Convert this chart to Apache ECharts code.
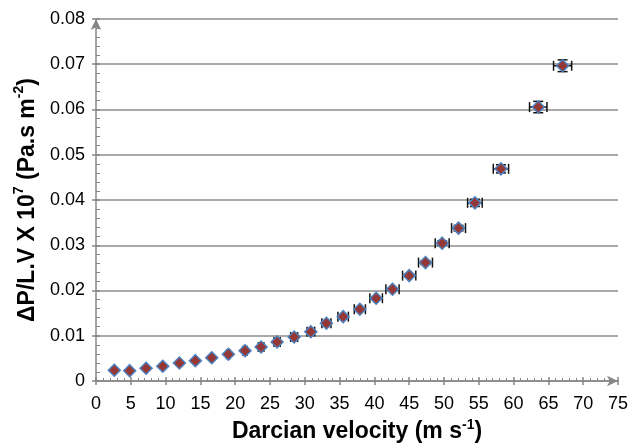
<!DOCTYPE html>
<html>
<head>
<meta charset="utf-8">
<script src="https://cdn.jsdelivr.net/npm/echarts@6/dist/echarts.min.js"></script>
<style>
  html, body { margin: 0; padding: 0; background: #fff; }
  #chart { width: 630px; height: 446px; }
</style>
</head>
<body>
<div id="chart"></div>
<script>
// Darcian velocity (m s-1)
const velocity = [2.63, 4.84, 7.19, 9.59, 11.98, 14.28, 16.63, 19.02, 21.42, 23.72,
  26.02, 28.47, 30.87, 33.11, 35.51, 37.91, 40.25, 42.6, 45.0, 47.34,
  49.74, 52.09, 54.44, 58.18, 63.54, 67.04];
// ΔP/L.V x 10^7 (Pa.s m-2)
const pressure = [0.00237, 0.00228, 0.00281, 0.00325, 0.00398, 0.00449, 0.00515, 0.0059, 0.0067, 0.00752,
  0.00863, 0.00973, 0.0109, 0.01276, 0.01422, 0.01586, 0.01829, 0.02028, 0.02329, 0.02617,
  0.03046, 0.03378, 0.03937, 0.04689, 0.06054, 0.06967];
// half-widths of the error bars
const velocityErr = [0, 0, 0, 0, 0.05, 0.1, 0.15, 0.25, 0.3, 0.4,
  0.45, 0.5, 0.55, 0.65, 0.75, 0.8, 0.9, 0.95, 0.95, 1.0,
  1.0, 1.0, 1.05, 1.1, 1.25, 1.3];
const pressureErr = [0, 0, 0, 0, 0, 0, 0, 0, 0, 0,
  0, 0, 0, 0, 0, 0, 0, 0, 0.0003, 0.0004,
  0.0005, 0.0006, 0.0008, 0.0009, 0.00125, 0.0013];

const xTicks = { min: 0, max: 75, interval: 5 };
const yTicks = { min: 0, max: 0.08, interval: 0.01 };

const FONT = '"Liberation Sans", Arial, sans-serif';
const AXIS_GRAY = '#868686';
const GRID_GRAY = '#8c8c8c';

const points = velocity.map((v, i) => [v, pressure[i]]);
const errData = velocity.map((v, i) => [v, pressure[i], velocityErr[i], pressureErr[i]]);

const chart = echarts.init(document.getElementById('chart'), null, { renderer: 'canvas' });

function errorBars(params, api) {
  const x = api.value(0), y = api.value(1), ex = api.value(2), ey = api.value(3);
  const cap = 5;
  const style = { stroke: '#111', lineWidth: 1.5, fill: null };
  const children = [];
  if (ex > 0) {
    const l = api.coord([x - ex, y]);
    const r = api.coord([x + ex, y]);
    children.push(
      { type: 'line', shape: { x1: l[0], y1: l[1], x2: r[0], y2: r[1] }, style },
      { type: 'line', shape: { x1: l[0], y1: l[1] - cap, x2: l[0], y2: l[1] + cap }, style },
      { type: 'line', shape: { x1: r[0], y1: r[1] - cap, x2: r[0], y2: r[1] + cap }, style }
    );
  }
  if (ey > 0) {
    const t = api.coord([x, y + ey]);
    const b = api.coord([x, y - ey]);
    children.push(
      { type: 'line', shape: { x1: t[0], y1: t[1], x2: b[0], y2: b[1] }, style },
      { type: 'line', shape: { x1: t[0] - cap, y1: t[1], x2: t[0] + cap, y2: t[1] }, style },
      { type: 'line', shape: { x1: b[0] - cap, y1: b[1], x2: b[0] + cap, y2: b[1] }, style }
    );
  }
  return { type: 'group', children };
}

function titleRich(size, supSize, lh) {
  return {
    b: { fontFamily: FONT, fontSize: size, fontWeight: 'bold', color: '#000', lineHeight: lh },
    s: { fontFamily: FONT, fontSize: supSize, fontWeight: 'bold', color: '#000', verticalAlign: 'top', lineHeight: lh }
  };
}

const option = {
  animation: false,
  backgroundColor: '#fff',
  grid: { left: 96, right: 12, top: 19, bottom: 65, containLabel: false, outerBoundsMode: 'none' },
  xAxis: [
    {
      type: 'value', min: xTicks.min, max: xTicks.max, interval: xTicks.interval,
      name: '{b|Darcian velocity (m s}{s|-1}{b|)}',
      nameLocation: 'middle', nameGap: 32,
      nameTextStyle: { rich: titleRich(23, 14, 28) },
      axisLine: { show: true, lineStyle: { color: AXIS_GRAY, width: 1.5 }, symbol: ['none', 'arrow'], symbolSize: [8, 11] },
      axisTick: { show: true, inside: false, length: 4, lineStyle: { color: AXIS_GRAY, width: 1.5 } },
      minorTick: { show: false },
      axisLabel: { color: '#000', fontFamily: FONT, fontSize: 18, margin: 14 },
      splitLine: { show: false }
    },
    {
      type: 'value', min: xTicks.min, max: xTicks.max, interval: xTicks.interval,
      position: 'bottom',
      axisLine: { show: false },
      axisTick: { show: true, inside: true, length: 4, lineStyle: { color: AXIS_GRAY, width: 1.5 } },
      minorTick: { show: true, splitNumber: 5, length: 3, lineStyle: { color: AXIS_GRAY, width: 1 } },
      axisLabel: { show: false },
      splitLine: { show: false }
    }
  ],
  yAxis: [
    {
      type: 'value', min: yTicks.min, max: yTicks.max, interval: yTicks.interval,
      name: '{b|ΔP/L.V X 10}{s|7}{b| (Pa.s m}{s|-2}{b|)}',
      nameLocation: 'middle', nameGap: 50, nameRotate: 90,
      nameTextStyle: { rich: titleRich(23, 14, 30) },
      axisLine: { show: true, lineStyle: { color: AXIS_GRAY, width: 1.5 }, symbol: ['none', 'arrow'], symbolSize: [8, 11] },
      axisTick: { show: true, inside: false, length: 4, lineStyle: { color: AXIS_GRAY, width: 1.5 } },
      minorTick: { show: false },
      axisLabel: { color: '#000', fontFamily: FONT, fontSize: 18, margin: 11 },
      splitLine: { show: true, lineStyle: { color: GRID_GRAY, width: 1.5 } }
    },
    {
      type: 'value', min: yTicks.min, max: yTicks.max, interval: yTicks.interval,
      position: 'left',
      axisLine: { show: false },
      axisTick: { show: true, inside: true, length: 4, lineStyle: { color: AXIS_GRAY, width: 1.5 } },
      minorTick: { show: true, splitNumber: 5, length: 4, lineStyle: { color: AXIS_GRAY, width: 1 } },
      axisLabel: { show: false },
      splitLine: { show: false }
    }
  ],
  series: [
    {
      type: 'custom',
      xAxisIndex: 0, yAxisIndex: 0,
      renderItem: errorBars,
      data: errData,
      encode: { x: 0, y: 1 },
      z: 2
    },
    {
      type: 'scatter',
      xAxisIndex: 0, yAxisIndex: 0,
      data: points,
      symbol: 'diamond',
      symbolSize: 12,
      itemStyle: { color: '#953735', borderColor: '#4f81bd', borderWidth: 1.5, opacity: 1 },
      z: 3
    }
  ]
};

chart.setOption(option);
</script>
</body>
</html>
